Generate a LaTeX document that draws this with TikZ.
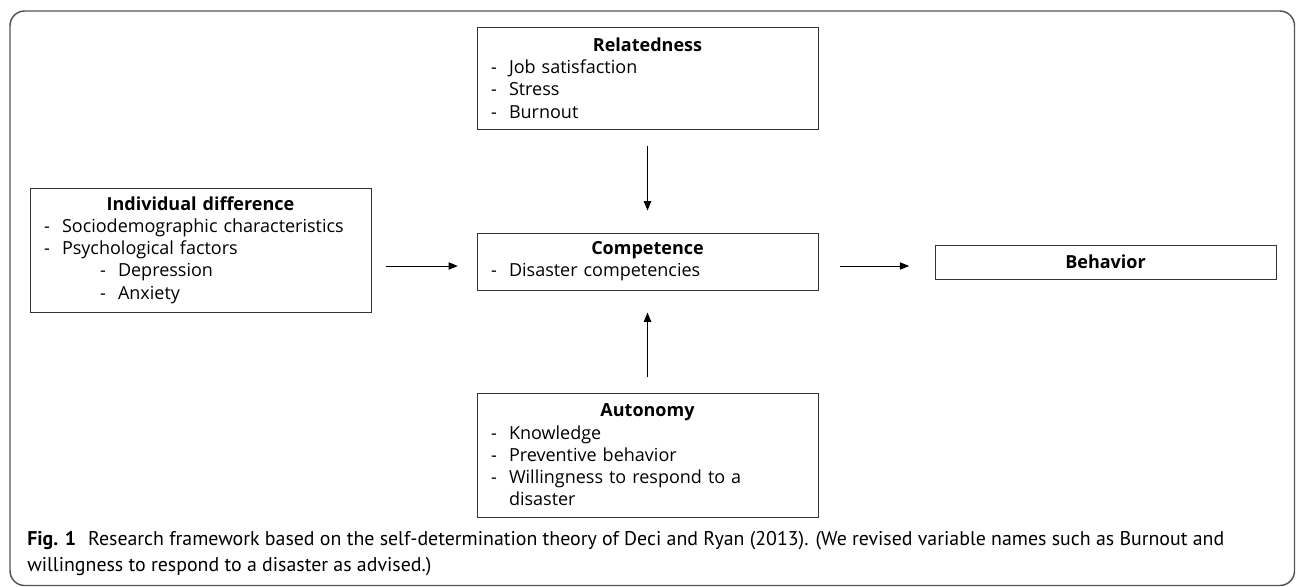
\documentclass[tikz,border=0pt]{standalone}
\usepackage{fontspec}
\setmainfont{Open Sans}
\newfontfamily\capfont{PT Sans}
\usetikzlibrary{arrows.meta}
\definecolor{boxgray}{HTML}{333333}
\definecolor{framegray}{HTML}{555555}
% list lines inside the boxes
\newcommand{\ditem}[1]{\par\noindent\makebox[13.5pt][l]{-}#1}
\newcommand{\sditem}[1]{\par\noindent\hspace*{42pt}\makebox[13.5pt][l]{-}#1}
\newcommand{\dcont}[1]{\par\noindent\hspace*{13.5pt}#1}
\begin{document}
\begin{tikzpicture}[x = 0.75pt, y = -0.75pt,
		box/.style = {draw = boxgray, line width = 0.75pt, text width = 234.75pt, inner xsep = 10.5pt, inner ysep = 0pt, align = left, font = \fontsize{13.5}{16.7}\selectfont},
		arr/.style = {-{Triangle[length = 7pt, width = 5.5pt]}, line width = 0.75pt}]
					\useasboundingbox (0, 0) rectangle (1296, 586);
					% frame
					\draw[framegray, line width = 1.1pt, rounded corners = 11pt] (10, 11) rectangle (1294.5, 585.5);
					% boxes
					\node[box, minimum height = 76.5pt] (rel) at (647.5, 78) {\centerline{\textbf{Relatedness}}\ditem{Job satisfaction}\ditem{Stress}\ditem{Burnout}};
					\node[box, minimum height = 93pt] (ind) at (200.5, 250) {\centerline{\textbf{Individual difference}}\ditem{Sociodemographic characteristics}\ditem{Psychological factors}\sditem{Depression}\sditem{Anxiety}};
					\node[box, minimum height = 42.75pt] (comp) at (647.5, 261.5) {\centerline{\textbf{Competence}}\ditem{Disaster competencies}};
					\node[box, minimum height = 93pt] (aut) at (647.5, 455) {\centerline{\textbf{Autonomy}}\ditem{Knowledge}\ditem{Preventive behavior}\ditem{Willingness to respond to a}\dcont{disaster}};
					\node[box, minimum height = 25.5pt, align = center] (beh) at (1105.5, 262) {\textbf{Behavior}};
					% arrows
					\coordinate (row) at (0, 266);
					\draw[arr, shorten <= 12pt, shorten >= 16.5pt] (rel.south) -- (comp.north);
					\draw[arr, shorten <= 12pt, shorten >= 16.5pt] (aut.north) -- (comp.south);
					\draw[arr, shorten <= 11pt, shorten >= 14pt] (ind.east |- row) -- (comp.west |- row);
					\draw[arr, shorten <= 16pt, shorten >= 19pt] (comp.east |- row) -- (beh.west |- row);
					% caption
					\node[anchor = base west, inner sep = 0pt, font = \capfont\fontsize{14.9}{18}\selectfont] (capa) at (27, 545) {\textbf{Fig. 1}\hspace{9pt}Research framework based on the self-determination theory of Deci and Ryan (2013). (We revised variable names such as Burnout and};
					\node[anchor = base west, inner sep = 0pt, font = \capfont\fontsize{14.9}{18}\selectfont] (capb) at (27, 571) {willingness to respond to a disaster as advised.)};
				\end{tikzpicture}
\end{document}
